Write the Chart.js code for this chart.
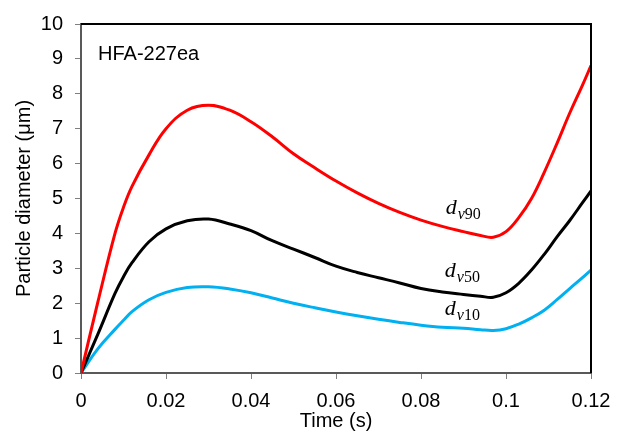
<!DOCTYPE html>
<html>
<head>
<meta charset="utf-8">
<script src="https://cdn.jsdelivr.net/npm/chart.js@4/dist/chart.umd.min.js"></script>
<style>
  body { margin: 0; background: #fff; }
  canvas { display: block; }
</style>
</head>
<body>
<canvas id="chart_container" width="627" height="431"></canvas>
<script>
// time axis (s) and particle diameters (µm)
const time = [0, 0.004, 0.008, 0.010, 0.012, 0.016, 0.02, 0.025, 0.03, 0.035, 0.04, 0.045, 0.05,
              0.055, 0.06, 0.065, 0.07, 0.075, 0.08, 0.085, 0.09, 0.094, 0.097, 0.1, 0.103,
              0.106, 0.109, 0.112, 0.115, 0.118, 0.12]
const dv90 = [0, 2.05, 4.0, 4.75, 5.35, 6.25, 7.0, 7.53, 7.67, 7.53, 7.2, 6.77, 6.28,
              5.88, 5.5, 5.16, 4.86, 4.6, 4.38, 4.2, 4.05, 3.94, 3.89, 4.05, 4.45,
              5.0, 5.75, 6.58, 7.45, 8.25, 8.81]
const dv50 = [0, 1.12, 2.28, 2.76, 3.16, 3.76, 4.13, 4.36, 4.41, 4.27, 4.08, 3.79, 3.55,
              3.31, 3.06, 2.88, 2.73, 2.58, 2.42, 2.32, 2.25, 2.2, 2.17, 2.3, 2.57,
              2.95, 3.4, 3.9, 4.37, 4.88, 5.22]
const dv10 = [0, 0.7, 1.25, 1.51, 1.76, 2.1, 2.31, 2.45, 2.47, 2.41, 2.3, 2.15, 2.0,
              1.87, 1.75, 1.64, 1.54, 1.45, 1.37, 1.31, 1.28, 1.24, 1.22, 1.27, 1.4,
              1.58, 1.8, 2.1, 2.42, 2.73, 2.95]

const xTicks = { min: 0, max: 0.12, step: 0.02 }
const yTicks = { min: 0, max: 10, step: 1 }

const curveLabels = [
    { sub: '90', x: 0.0858, y: 4.55 },
    { sub: '50', x: 0.0856, y: 2.76 },
    { sub: '10', x: 0.0856, y: 1.67 }
]
const sampleName = 'HFA-227ea'

const SANS = "'Liberation Sans', Arial, sans-serif"
const SERIF = "'Liberation Serif', 'DejaVu Serif', serif"

function points(ys){
    return time.map((t, i) => ({ x: t, y: ys[i] }))
}

function series(label, ys, color){
    return {
        label: label,
        data: points(ys),
        borderColor: color,
        borderWidth: 3,
        pointRadius: 0,
        showLine: true,
        fill: false,
        tension: 0.4
    }
}

// box edges on top and right, sample name, and d_v labels next to the curves
const annotations = {
    id: 'annotations',
    afterDatasetsDraw(chart){
        const { ctx, chartArea: a, scales } = chart
        ctx.save()

        ctx.strokeStyle = '#000'
        ctx.lineWidth = 2
        ctx.beginPath()
        ctx.moveTo(a.left, a.top)
        ctx.lineTo(a.right, a.top)
        ctx.lineTo(a.right, a.bottom)
        ctx.stroke()

        ctx.fillStyle = '#000'
        ctx.textBaseline = 'alphabetic'
        ctx.textAlign = 'left'
        ctx.font = '20px ' + SANS
        ctx.fillText(sampleName, a.left + 17, a.top + 36)

        curveLabels.forEach(l => {
            let px = scales.x.getPixelForValue(l.x)
            const py = scales.y.getPixelForValue(l.y)
            ctx.font = 'italic 22px ' + SERIF
            ctx.fillText('d', px, py)
            px += ctx.measureText('d').width + 1
            ctx.font = 'italic 16px ' + SERIF
            ctx.fillText('v', px, py + 5)
            px += ctx.measureText('v').width
            ctx.font = '16px ' + SERIF
            ctx.fillText(l.sub, px, py + 5)
        })

        ctx.restore()
    }
}

const canvas = document.getElementById('chart_container')
const chart = new Chart(canvas, {
    type: 'scatter',
    data: {
        datasets: [
            series('dv90', dv90, '#ff0000'),
            series('dv50', dv50, '#000000'),
            series('dv10', dv10, '#00b0f0')
        ]
    },
    options: {
        responsive: false,
        devicePixelRatio: 1,
        animation: false,
        layout: { padding: { top: 18, right: 36, left: 12, bottom: 1 } },
        plugins: {
            legend: { display: false },
            tooltip: { enabled: false }
        },
        scales: {
            x: {
                type: 'linear',
                min: xTicks.min,
                max: xTicks.max,
                afterFit: scale => { scale.height = 57 },
                ticks: {
                    stepSize: xTicks.step,
                    color: '#000',
                    padding: 10,
                    maxRotation: 0,
                    font: { family: SANS, size: 20 },
                    callback: v => String(Number(v.toFixed(2)))
                },
                grid: {
                    drawOnChartArea: false,
                    tickLength: 6,
                    color: '#7f7f7f'
                },
                border: { color: '#595959', width: 2 },
                title: {
                    display: true,
                    text: 'Time (s)',
                    color: '#000',
                    padding: { top: 0, bottom: -3 },
                    font: { family: SANS, size: 20 }
                }
            },
            y: {
                min: yTicks.min,
                max: yTicks.max,
                afterFit: scale => { scale.width = 69 },
                ticks: {
                    stepSize: yTicks.step,
                    color: '#000',
                    padding: 12,
                    font: { family: SANS, size: 20 }
                },
                grid: {
                    drawOnChartArea: false,
                    tickLength: 6,
                    color: '#7f7f7f'
                },
                border: { color: '#595959', width: 2 },
                title: {
                    display: true,
                    text: 'Particle diameter (μm)',
                    color: '#000',
                    padding: 0,
                    font: { family: SANS, size: 20 }
                }
            }
        }
    },
    plugins: [annotations]
})
</script>
</body>
</html>
